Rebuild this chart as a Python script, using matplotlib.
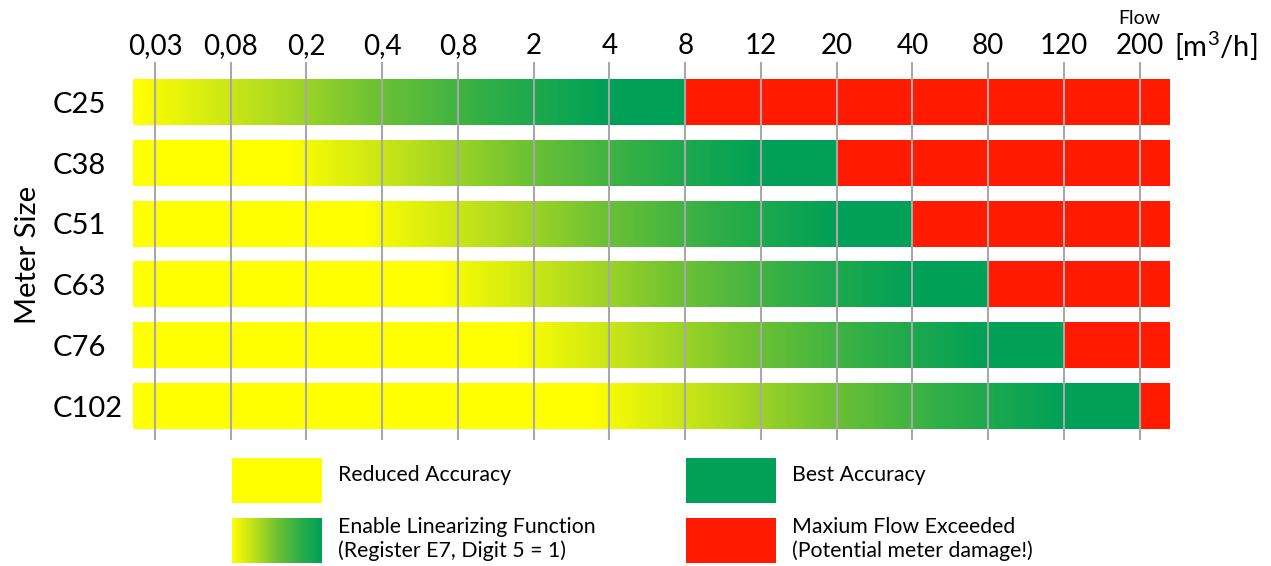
"""
Rango de caudal por tamaño de medidor
"""
import numpy as np
import matplotlib.pyplot as plt
from matplotlib.colors import LinearSegmentedColormap, to_rgb
from matplotlib.patches import Rectangle

plt.rcParams['font.family'] = ['Lato', 'DejaVu Sans']
plt.rcParams['mathtext.fontset'] = 'custom'
plt.rcParams['mathtext.rm'] = 'Lato'

# Datos
flow_ticks = ['0,03', '0,08', '0,2', '0,4', '0,8', '2', '4', '8', '12', '20', '40', '80', '120', '200']
meter_sizes = ['C25', 'C38', 'C51', 'C63', 'C76', 'C102']
linear_from = ['0,03', '0,2', '0,4', '0,8', '2', '4']   # fin de la zona amarilla
best_from = ['4', '12', '20', '40', '80', '120']         # inicio de la zona verde
max_flow = ['8', '20', '40', '80', '120', '200']         # caudal máximo

YELLOW = '#FFFF00'
GREEN = '#00A057'
RED = '#FF1A00'
GRID = '#A8A8A8'
grad_cmap = LinearSegmentedColormap.from_list(
    'lin', [YELLOW, '#BCE01C', '#6FC233', '#2EAE48', GREEN])

W, H = 1271, 566
fig = plt.figure(figsize=(W / 100, H / 100), dpi=100)

x_left, x_right = -0.29, 13.4
ax = fig.add_axes([133 / W, 1 - 440 / H, (1170 - 133) / W, (440 - 62) / H])

bar_h = 0.75
xs = np.linspace(x_left, x_right, 2400)
for i, name in enumerate(meter_sizes):
    g0 = max(flow_ticks.index(linear_from[i]) - 0.25, x_left)
    g1 = flow_ticks.index(best_from[i])
    r0 = flow_ticks.index(max_flow[i])
    t = np.clip((xs - g0) / (g1 - g0), 0, 1)
    row = grad_cmap(t)[:, :3]
    row[xs >= r0] = to_rgb(RED)
    ax.imshow(row[np.newaxis, :, :], aspect='auto', interpolation='nearest',
              extent=[x_left, x_right, i + bar_h / 2, i - bar_h / 2], zorder=1)

ax.set_xlim(x_left, x_right)
ax.set_ylim(5.56, -0.667)

for k in range(len(flow_ticks)):
    ax.axvline(k, color=GRID, lw=1.5, zorder=3)

ax.xaxis.tick_top()
ax.set_xticks(range(len(flow_ticks)))
ax.set_xticklabels(flow_ticks, fontsize=20)
ax.tick_params(axis='x', length=0, pad=2)
ax.set_yticks(range(len(meter_sizes)))
ax.set_yticklabels(meter_sizes, fontsize=21, ha='left')
ax.tick_params(axis='y', length=0, pad=57.6)
for s in ax.spines.values():
    s.set_visible(False)

fig.text(28 / W, 1 - 255 / H, 'Meter Size', rotation=90, fontsize=21,
         ha='center', va='center')
fig.text(1139 / W, 1 - 19 / H, 'Flow', fontsize=14, ha='center', va='center')
fig.text(1174 / W, 1 - 46 / H, '[m$^3$/h]', fontsize=21, ha='left', va='center')

# Leyenda
lg = fig.add_axes([0, 0, 1, 1])
lg.axis('off')
box_w, box_h = 90, 45
gradient = np.linspace(0, 1, 256).reshape(1, -1)
lg.add_patch(Rectangle((232, 458), box_w, box_h, color=YELLOW, lw=0))
lg.imshow(gradient, cmap=grad_cmap, aspect='auto',
          extent=[232, 232 + box_w, 518 + box_h, 518], interpolation='bilinear')
lg.add_patch(Rectangle((686, 458), box_w, box_h, color=GREEN, lw=0))
lg.add_patch(Rectangle((686, 518), box_w, box_h, color=RED, lw=0))
lg.set_xlim(0, W)
lg.set_ylim(H, 0)

fs = 15.3
lg.text(338, 475, 'Reduced Accuracy', fontsize=fs, va='center')
lg.text(338, 527, 'Enable Linearizing Function', fontsize=fs, va='center')
lg.text(338, 551, '(Register E7, Digit 5 = 1)', fontsize=fs, va='center')
lg.text(792, 475, 'Best Accuracy', fontsize=fs, va='center')
lg.text(792, 527, 'Maxium Flow Exceeded', fontsize=fs, va='center')
lg.text(792, 551, '(Potential meter damage!)', fontsize=fs, va='center')

fig.savefig('out.png', dpi=100)
